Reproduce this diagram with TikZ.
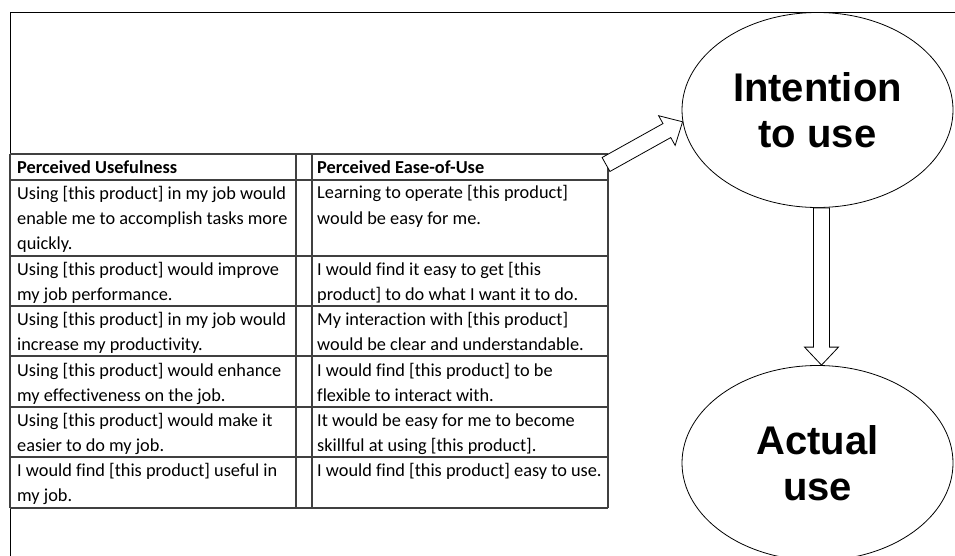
\documentclass[tikz,border=0pt]{standalone}
\usepackage{fontspec}
\setmainfont{Carlito}[Ligatures=NoCommon]
\newfontfamily\bubblefont{Liberation Sans}
\usepackage{tikz}
\usetikzlibrary{calc,shapes.geometric}

% hollow block arrow between two points
\newcommand{\fatarrow}[2]{%
  \coordinate (fa-base) at ($(#2)!18pt!(#1)$);
  \draw[blockarrow] ($(#1)!8pt!90:(#2)$) -- ($(fa-base)!8pt!90:(#2)$)
    -- ($(fa-base)!17pt!90:(#2)$) -- (#2) -- ($(fa-base)!17pt!-90:(#2)$)
    -- ($(fa-base)!8pt!-90:(#2)$) -- ($(#1)!8pt!-90:(#2)$) -- cycle;}

\begin{document}
\begin{tikzpicture}[
    x=1pt, y=-1pt,
    cell/.style={anchor=base west, inner sep=0pt, align=left, font=\fontsize{18.3}{25}\selectfont},
    headcell/.style={cell, font=\fontsize{18.3}{25}\selectfont\bfseries},
    grid/.style={draw=black!75, line width=1.2pt},
    bubble/.style={ellipse, draw, line width=0.8pt, inner sep=0pt, minimum width=271pt, minimum height=195pt, align=center, font=\bubblefont\fontsize{40}{46}\selectfont\bfseries},
    blockarrow/.style={draw, fill=white, line width=0.8pt, line join=miter}
]
\fill[white] (0,0) rectangle (955,556);
\useasboundingbox (0,0) rectangle (955,556);

% Outer frame
\draw[line width=0.8pt] (10,556) -- (10,12) -- (955,12);

% Table grid
\foreach \y in {154,180,256,306,356,407,457,508}
    \draw[grid] (10,\y) -- (608,\y);
\foreach \x in {10,296,312,608}
    \draw[grid] (\x,154) -- (\x,508);

% Perceived Usefulness column (placed at the baseline of the last line)
\node[headcell] (pu-head) at (17,174) {Perceived Usefulness};
\node[cell] (pu1) at (17,249) {Using [this product] in my job would\\enable me to accomplish tasks more\\quickly.};
\node[cell] (pu2) at (17,300) {Using [this product] would improve\\my job performance.};
\node[cell] (pu3) at (17,350) {Using [this product] in my job would\\increase my productivity.};
\node[cell] (pu4) at (17,401) {Using [this product] would enhance\\my effectiveness on the job.};
\node[cell] (pu5) at (17,451) {Using [this product] would make it\\easier to do my job.};
\node[cell] (pu6) at (17,501) {I would find [this product] useful in\\my job.};

% Perceived Ease-of-Use column
\node[headcell] (peou-head) at (317,174) {Perceived Ease-of-Use};
\node[cell] (peou1) at (317,224) {Learning to operate [this product]\\would be easy for me.};
\node[cell] (peou2) at (317,300) {I would find it easy to get [this\\product] to do what I want it to do.};
\node[cell] (peou3) at (317,350) {My interaction with [this product]\\would be clear and understandable.};
\node[cell] (peou4) at (317,401) {I would find [this product] to be\\flexible to interact with.};
\node[cell] (peou5) at (317,451) {It would be easy for me to become\\skillful at using [this product].};
\node[cell] (peou6) at (317,476) {I would find [this product] easy to use.};

% Outcomes
\node[bubble] (intent) at (817.5,110) {Intention\\to use};
\node[bubble] (actual) at (817.5,463) {Actual\\use};

% Block arrows
\coordinate (tabcorner) at (606,164.5);
\coordinate (shafttop) at ($(intent.south)+(4,0)$);
\coordinate (shaftend) at ($(actual.north)+(4,0)$);
\fatarrow{tabcorner}{intent.185}
\fatarrow{shafttop}{shaftend}

\end{tikzpicture}
\end{document}
